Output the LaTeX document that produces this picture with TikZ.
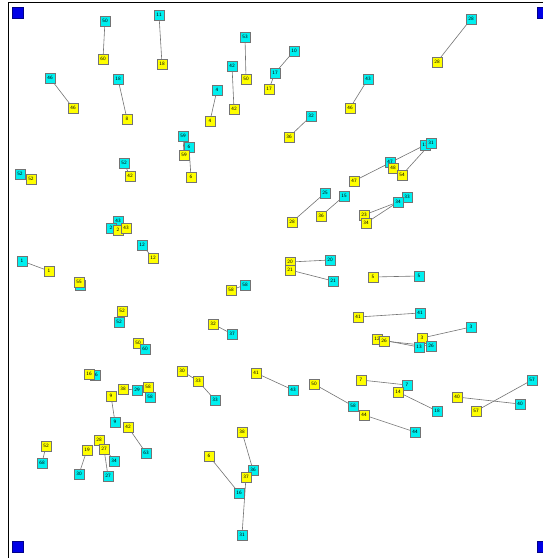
\documentclass[tikz,border=0pt]{standalone}
\usetikzlibrary{backgrounds}
\definecolor{boxcyan}{RGB}{0,240,240}
\definecolor{boxyellow}{RGB}{255,255,0}
\definecolor{markblue}{RGB}{0,0,230}
\begin{document}
\begin{tikzpicture}[x=1pt,y=-1pt,
  box/.style={draw=black!55,line width=0.7pt,minimum size=10pt,inner sep=0pt,font=\sffamily\fontsize{5}{5}\selectfont},
  cy/.style={box,fill=boxcyan},
  ye/.style={box,fill=boxyellow},
  bl/.style={fill=markblue,draw=markblue!60!black,line width=0.4pt,minimum size=11pt,inner sep=0pt},
  link/.style={draw=black!55,line width=0.6pt}]
\useasboundingbox (0,0) rectangle (543,558);
\draw[line width=1pt] (8,558) -- (8,2) -- (543,2);
% blue corner markers
\node[bl] (b1) at (18,13) {};
\node[bl] (b2) at (543,13) {};
\node[bl] (b3) at (18,547) {};
\node[bl] (b4) at (543,547) {};
% nodes
\node[cy] (c1) at (105,21) {50};  \node[ye] (y1) at (103,59) {60};
\node[cy] (c2) at (159,15) {11};  \node[ye] (y2) at (162,64) {18};
\node[cy] (c3) at (245,37) {53};  \node[ye] (y3) at (246,79) {50};
\node[cy] (c4) at (294,51) {10};  \node[cy] (c5) at (275,73) {17}; \node[ye] (y4) at (269,89) {17};
\node[cy] (c6) at (232,66) {42};  \node[ye] (y5) at (234,109) {42};
\node[cy] (c7) at (217,90) {4};   \node[ye] (y6) at (210,121) {4};
\node[cy] (c8) at (368,79) {43};  \node[ye] (y7) at (350,108) {46};
\node[cy] (c9) at (50,78) {46};   \node[ye] (y8) at (73,108) {46};
\node[cy] (c10) at (118,79) {18}; \node[ye] (y9) at (127,119) {8};
\node[cy] (c11) at (311,116) {32}; \node[ye] (y10) at (289,137) {36};
\node[cy] (c12) at (471,19) {28}; \node[ye] (y11) at (437,62) {28};
\node[cy] (c13) at (183,136) {59}; \node[cy] (c14) at (189,147) {6};
\node[ye] (y12) at (184,155) {59}; \node[ye] (y13) at (191,177) {6};
\node[cy] (c15) at (20,174) {52}; \node[ye] (y14) at (31,179) {52};
\node[cy] (c16) at (124,163) {52}; \node[ye] (y15) at (130,176) {42};
\node[ye] (y18) at (354,181) {47};
\node[cy] (c17) at (390,162) {47}; \node[ye] (y16) at (393,168) {48}; \node[ye] (y17) at (402,175) {54};
\node[cy] (c18) at (425,145) {11}; \node[cy] (c19) at (431,143) {31};
\node[cy] (c20) at (325,193) {25}; \node[ye] (y19) at (292,222) {28};
\node[cy] (c21) at (344,196) {15}; \node[ye] (y20) at (321,216) {36};
\node[cy] (c23) at (407,197) {33}; \node[cy] (c22) at (398,202) {34};
\node[ye] (y21) at (364,215) {23}; \node[ye] (y22) at (366,223) {34};
\node[cy] (c24) at (330,260) {20}; \node[ye] (y23) at (290,262) {20};
\node[ye] (y24) at (290,270) {21}; \node[cy] (c25) at (333,281) {21};
\node[ye] (y25) at (373,277) {5};  \node[cy] (c26) at (419,276) {5};
\node[ye] (y26) at (358,317) {41}; \node[cy] (c27) at (420,313) {41};
\node[ye] (y27) at (377,339) {12}; \node[ye] (y28) at (384,341) {26};
\node[ye] (y29) at (422,338) {3};  \node[cy] (c28) at (419,347) {13};
\node[cy] (c29) at (431,346) {26}; \node[cy] (c30) at (471,327) {3};
\node[cy] (c31) at (118,221) {43}; \node[cy] (c32) at (111,228) {2};
\node[ye] (y30) at (118,230) {2};  \node[ye] (y31) at (126,228) {43};
\node[cy] (c33) at (142,245) {12}; \node[ye] (y32) at (153,258) {12};
\node[cy] (c34) at (22,261) {1};   \node[ye] (y33) at (49,271) {1};
\node[cy] (c35) at (80,285) {};  \node[ye] (y34) at (79,282) {55};
\node[cy] (c36) at (245,285) {58}; \node[ye] (y35) at (231,290) {58};
\node[ye] (y36) at (213,324) {32}; \node[cy] (c37) at (232,334) {37};
\node[ye] (y37) at (122,311) {52}; \node[cy] (c38) at (119,322) {52};
\node[ye] (y38) at (138,343) {50}; \node[cy] (c39) at (145,349) {60};
\node[cy] (c40) at (95,375) {16};  \node[ye] (y39) at (89,374) {16};
\node[ye] (y40) at (182,371) {30}; \node[ye] (y41) at (198,381) {33}; \node[cy] (c41) at (215,400) {33};
\node[ye] (y42) at (123,389) {38}; \node[cy] (c42) at (137,390) {29};
\node[cy] (c43) at (150,397) {58}; \node[ye] (y43) at (148,387) {58};
\node[ye] (y44) at (111,396) {9};  \node[cy] (c44) at (115,422) {9};
\node[ye] (y45) at (128,427) {42}; \node[cy] (c45) at (146,453) {63};
\node[ye] (y46) at (256,373) {41}; \node[cy] (c46) at (293,390) {43};
\node[ye] (y47) at (314,384) {50}; \node[cy] (c47) at (353,406) {58};
\node[ye] (y48) at (364,415) {44}; \node[cy] (c48) at (415,432) {44};
\node[ye] (y49) at (361,380) {7};  \node[cy] (c49) at (407,385) {7};
\node[ye] (y50) at (398,392) {14}; \node[cy] (c50) at (437,411) {18};
\node[ye] (y51) at (457,397) {40}; \node[cy] (c51) at (520,404) {40};
\node[ye] (y52) at (476,411) {57}; \node[cy] (c52) at (532,380) {57};
\node[ye] (y53) at (46,446) {52};  \node[cy] (c53) at (42,463) {68};
\node[ye] (y54) at (99,440) {28};  \node[ye] (y55) at (87,450) {19}; \node[ye] (y56) at (104,449) {27};
\node[cy] (c54) at (114,461) {34}; \node[cy] (c55) at (79,474) {30}; \node[cy] (c56) at (108,476) {27};
\node[ye] (y57) at (209,456) {6};  \node[cy] (c57) at (239,493) {16};
\node[ye] (y58) at (242,432) {38}; \node[cy] (c58) at (253,470) {36};
\node[ye] (y59) at (246,477) {37}; \node[cy] (c59) at (242,535) {31};
% connectors
\begin{pgfonlayer}{background}
\foreach \a/\b in {c1/y1,c2/y2,c3/y3,c4/c5,c5/y4,c6/y5,c7/y6,c8/y7,c9/y8,c10/y9,c11/y10,c12/y11,
  c13/y12,c14/y13,c15/y14,c16/y15,y18/c18,y17/c19,c17/y16,c20/y19,c21/y20,y21/c22,y22/c22,
  c24/y23,y24/c25,y25/c26,y26/c27,y27/c28,y28/c29,y29/c30,c32/y30,c31/y31,c33/y32,c34/y33,
  c36/y35,y36/c37,y37/c38,y38/c39,y40/y41,y41/c41,y42/c42,y43/c43,y44/c44,y45/c45,y46/c46,
  y47/c47,y48/c48,y49/c49,y50/c50,y51/c51,y52/c52,y53/c53,y54/c54,y55/c55,y56/c56,y57/c57,
  y58/c58,y59/c59}
  \draw[link] (\a.center) -- (\b.center);
\end{pgfonlayer}
\end{tikzpicture}
\end{document}
